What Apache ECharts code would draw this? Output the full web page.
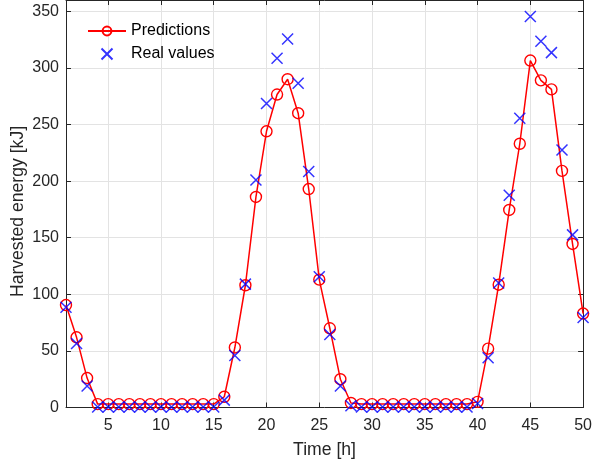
<!DOCTYPE html>
<html>
<head>
<meta charset="utf-8">
<script src="https://cdn.jsdelivr.net/npm/echarts@6/dist/echarts.min.js"></script>
<style>html,body{margin:0;padding:0;background:#fff}#c{width:595px;height:468px}</style>
</head>
<body>
<div id="c"></div>
<script>
const hours = [1,2,3,4,5,6,7,8,9,10,11,12,13,14,15,16,17,18,19,20,21,22,23,24,25,26,27,28,29,30,31,32,33,34,35,36,37,38,39,40,41,42,43,44,45,46,47,48,49,50];
const predictions = [90.5,62,26,3,3,3,3,3,3,3,3,3,3,3,3,9.5,53,108,186,244,276.5,290,260,193,113,70,25,4,3,3,3,3,3,3,3,3,3,3,3,5,52,108.5,174.5,233,306.5,289,281,209,144.5,83];
const realValues = [88.5,56.5,19,0.5,0.5,0.5,0.5,0.5,0.5,0.5,0.5,0.5,0.5,0.5,0.5,6.5,46,109,201,268.5,308.5,325.5,286.5,208.5,115.5,64.5,19,1.5,0.5,0.5,0.5,0.5,0.5,0.5,0.5,0.5,0.5,0.5,0.5,3.5,44,110,187.5,255.5,345.5,323.5,313.5,227.5,152.5,79.5];
const xTicks = [5,10,15,20,25,30,35,40,45,50];
const yTicks = [0,50,100,150,200,250,300,350];

const FONT = 'Liberation Sans';
const AX = '#262626';
const GRID = '#e3e3e3';

const chart = echarts.init(document.getElementById('c'), null, {renderer:'canvas'});
const predData = hours.map((h,i)=>[h, predictions[i]]);
const realData = hours.map((h,i)=>[h, realValues[i]]);

chart.setOption({
  animation: false,
  backgroundColor: '#fff',
  textStyle: {fontFamily: FONT},
  grid: {left: 66, right: 10.5, top: -1, bottom: 60.5, containLabel: false},
  legend: {
    orient: 'vertical', left: 82, top: 18, itemWidth: 38, itemHeight: 11, itemGap: 7,
    textStyle: {fontFamily: FONT, fontSize: 16, color: '#000'},
    data: ['Predictions', 'Real values']
  },
  xAxis: [{
    type: 'value', min: 1, max: 50,
    axisLine: {show: true, onZero: false, lineStyle: {color: AX, width: 1}},
    axisTick: {show: true, inside: true, length: 5, lineStyle: {color: AX}, customValues: xTicks},
    axisLabel: {fontFamily: FONT, fontSize: 16, color: '#262626', margin: 10, customValues: xTicks},
    splitLine: {show: true, lineStyle: {color: GRID, width: 1}},
    name: 'Time [h]', nameLocation: 'middle', nameGap: 34,
    nameTextStyle: {fontFamily: FONT, fontSize: 17.6, color: '#262626'}
  }, {
    type: 'value', min: 1, max: 50, position: 'top',
    axisLine: {show: true, onZero: false, lineStyle: {color: AX}},
    axisTick: {show: true, inside: true, length: 5, lineStyle: {color: AX}, customValues: xTicks},
    axisLabel: {show: false},
    splitLine: {show: false}
  }],
  yAxis: [{
    type: 'value', min: 0, max: 360, interval: 50,
    axisLine: {show: true, onZero: false, lineStyle: {color: AX}},
    axisTick: {show: true, inside: true, length: 5, lineStyle: {color: AX}},
    axisLabel: {fontFamily: FONT, fontSize: 16, color: '#262626', margin: 7,
      formatter: v => (yTicks.indexOf(v) >= 0 ? String(v) : '')},
    splitLine: {show: true, lineStyle: {color: GRID, width: 1}}
  }, {
    type: 'value', min: 0, max: 360, interval: 50, position: 'right',
    axisLine: {show: true, onZero: false, lineStyle: {color: AX}},
    axisTick: {show: true, inside: true, length: 5, lineStyle: {color: AX}},
    axisLabel: {show: false},
    splitLine: {show: false}
  }],
  graphic: [{
    type: 'text', x: 18.5, y: 211.5,
    rotation: Math.PI/2,
    style: {text: 'Harvested energy [kJ]', fontFamily: FONT, fontSize: 17.6, fill: '#262626',
      textAlign: 'center', textVerticalAlign: 'middle'}
  }],
  series: [{
    name: 'Predictions', type: 'line', data: predData, xAxisIndex: 0, yAxisIndex: 0,
    symbol: 'circle', symbolSize: 11, showAllSymbol: true,
    lineStyle: {color: '#ff0000', width: 1.5},
    itemStyle: {color: 'rgba(255,255,255,0)', borderColor: '#ff0000', borderWidth: 1.4},
    z: 2
  }, {
    name: 'Real values', type: 'scatter', data: realData, xAxisIndex: 0, yAxisIndex: 0,
    symbol: 'path://M0,0L10,10M10,0L0,10', symbolSize: 11,
    itemStyle: {color: 'rgba(0,0,0,0)', borderColor: '#0000ff', borderWidth: 1.5},
    z: 3
  }]
});
</script>
</body>
</html>
